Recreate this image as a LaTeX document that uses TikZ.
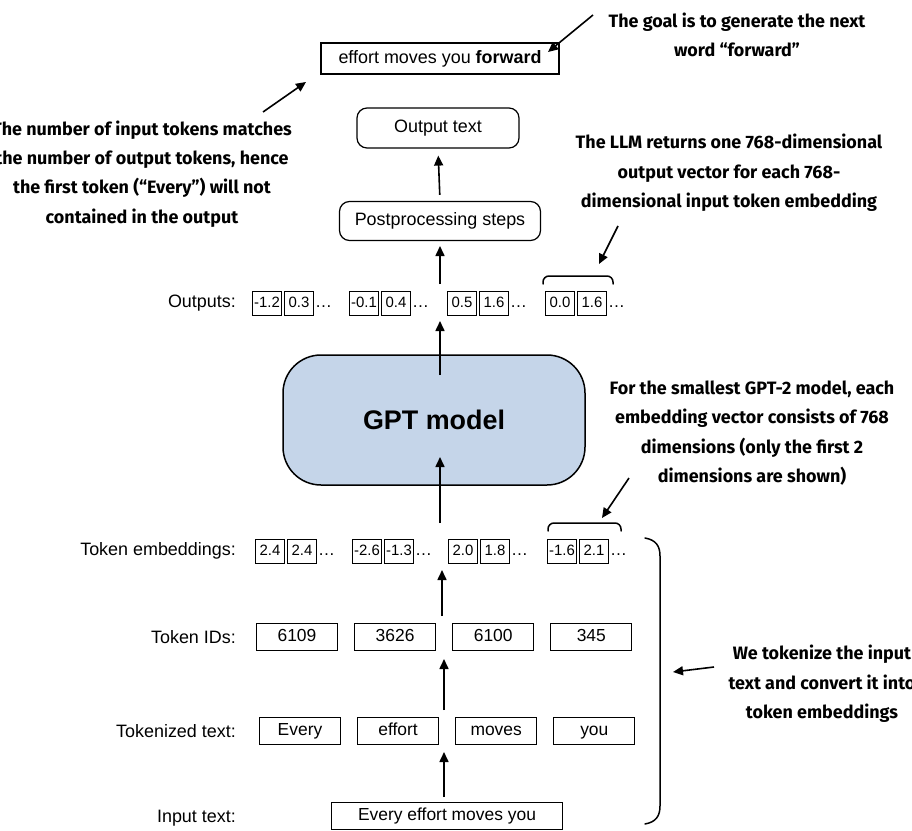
\documentclass[tikz,border=0pt]{standalone}
\usepackage{fontspec}
\setmainfont{Liberation Sans}
\newfontfamily\notefont{Fira Sans}
\usetikzlibrary{positioning,arrows.meta}
\definecolor{gptblue}{RGB}{197,213,233}

\tikzset{
  tokbox/.style={draw, line width=1.1bp, minimum width=81bp, minimum height=27bp, inner sep=0pt,
    text height=13bp, text depth=3.5bp, font=\fontsize{17.5}{20}\selectfont},
  vecbox/.style={draw, line width=1bp, minimum width=29bp, minimum height=24bp, inner sep=0pt,
    text height=11bp, text depth=2bp, font=\fontsize{15}{17}\selectfont},
  dots/.style={inner sep=0pt, anchor=base west, font=\fontsize{17}{20}\selectfont},
  rowlabel/.style={anchor=east, inner sep=0pt, font=\fontsize{18}{20}\selectfont},
  stepbox/.style={draw, line width=1.2bp, rounded corners=10bp, inner sep=0pt, font=\fontsize{18}{20}\selectfont},
  note/.style={align=center, inner sep=0pt, font=\notefont\bfseries\fontsize{18}{29.5}\selectfont},
  arr/.style={-{Triangle[length=10bp,width=9bp]}, line width=1.6bp},
  brace/.style={line width=1.5bp, line cap=round}
}

\begin{document}
\begin{tikzpicture}[x=1bp, y=-1bp, node distance=16bp]
\useasboundingbox (0,0) rectangle (912,831);

% input text and tokens
\node[rowlabel] (linp) at (236,818) {Input text:};
\node[tokbox, minimum width=231bp] (inp) at (447,816) {Every effort moves you};

\node[rowlabel] (ltok) at (236,731) {Tokenized text:};
\node[tokbox] (w1) at (300,731) {Every};
\node[tokbox, right=of w1] (w2) {effort};
\node[tokbox, right=of w2] (w3) {moves};
\node[tokbox, right=of w3] (w4) {you};

\node[rowlabel] (lid) at (236,637) {Token IDs:};
\node[tokbox] (id1) at (297,637) {6109};
\node[tokbox, right=of id1] (id2) {3626};
\node[tokbox, right=of id2] (id3) {6100};
\node[tokbox, right=of id3] (id4) {345};

% token embeddings
\node[rowlabel] (lemb) at (236,551) {Token embeddings:};
\node[vecbox] (e1a) at (270,551) {2.4};
\node[vecbox, right=2bp of e1a] (e1b) {2.4};
\node[dots] (e1d) at ([xshift=1bp]e1b.base east) {\dots};
\node[vecbox] (e2a) at (367,551) {-2.6};
\node[vecbox, right=2bp of e2a] (e2b) {-1.3};
\node[dots] (e2d) at ([xshift=1bp]e2b.base east) {\dots};
\node[vecbox] (e3a) at (463,551) {2.0};
\node[vecbox, right=2bp of e3a] (e3b) {1.8};
\node[dots] (e3d) at ([xshift=1bp]e3b.base east) {\dots};
\node[vecbox] (e4a) at (562,551) {-1.6};
\node[vecbox, right=2bp of e4a] (e4b) {2.1};
\node[dots] (e4d) at ([xshift=1bp]e4b.base east) {\dots};

% model
\node[draw, line width=1.5bp, fill=gptblue, rounded corners=38bp, minimum width=302bp, minimum height=130bp,
      font=\bfseries\fontsize{27}{30}\selectfont] (gpt) at (434,420) {GPT model};

% outputs
\node[rowlabel] (lout) at (236,303) {Outputs:};
\node[vecbox] (o1a) at (267,303) {-1.2};
\node[vecbox, right=2bp of o1a] (o1b) {0.3};
\node[dots] (o1d) at ([xshift=1bp]o1b.base east) {\dots};
\node[vecbox] (o2a) at (364,303) {-0.1};
\node[vecbox, right=2bp of o2a] (o2b) {0.4};
\node[dots] (o2d) at ([xshift=1bp]o2b.base east) {\dots};
\node[vecbox] (o3a) at (462,303) {0.5};
\node[vecbox, right=2bp of o3a] (o3b) {1.6};
\node[dots] (o3d) at ([xshift=1bp]o3b.base east) {\dots};
\node[vecbox] (o4a) at (560,303) {0.0};
\node[vecbox, right=2bp of o4a] (o4b) {1.6};
\node[dots] (o4d) at ([xshift=1bp]o4b.base east) {\dots};

\node[stepbox, minimum width=201bp, minimum height=39bp] (post) at (440,221) {Postprocessing steps};
\node[stepbox, minimum width=162bp, minimum height=40bp] (outtxt) at (438,128) {Output text};
\node[draw, line width=1.2bp, minimum width=238bp, minimum height=31bp, inner sep=0pt,
      font=\fontsize{18}{20}\selectfont] (next) at (440,58.5) {effort moves you \textbf{forward}};

% flow arrows
\coordinate (f0a) at (444,797);
\coordinate (f0b) at (444,752);
\coordinate (f1a) at (444,710);
\coordinate (f1b) at (444,659);
\coordinate (f2a) at (442,616);
\coordinate (f2b) at (442,570);
\coordinate (f3a) at (440,523);
\coordinate (f3b) at (440,457);
\coordinate (f4a) at (440,375);
\coordinate (f4b) at (440,321);
\coordinate (f5a) at (440,284);
\coordinate (f5b) at (440,246);
\draw[arr] (f0a) -- (f0b);
\draw[arr] (f1a) -- (f1b);
\draw[arr] (f2a) -- (f2b);
\draw[arr] (f3a) -- (f3b);
\draw[arr] (f4a) -- (f4b);
\draw[arr] (f5a) -- (f5b);
\draw[arr, shorten <=6bp, shorten >=7bp] (post.north) -- (outtxt.south);

% braces
\draw[brace, rounded corners=6bp] (543,284) -- (543,276) -- (613,276) -- (613,284);
\draw[brace, rounded corners=6bp] (548,531) -- (548,523) -- (621,523) -- (621,531);
\draw[brace] (645,538) .. controls (656,540) and (660,546) .. (660,556) -- (660,806)
  .. controls (660,816) and (656,822) .. (645,824);

% annotations
\node[note] (goal) at (737,35) {The goal is to generate the next\\word “forward”};
\node[note] (match) at (142,174) {The number of input tokens matches\\the number of output tokens, hence\\the first token (“Every”) will not\\contained in the output};
\node[note] (llm) at (729,173) {The LLM returns one 768-dimensional\\output vector for each 768-\\dimensional input token embedding};
\node[note] (small) at (752,433) {For the smallest GPT-2 model, each\\embedding vector consists of 768\\dimensions (only the first 2\\dimensions are shown)};
\node[note] (tokz) at (822,684) {We tokenize the input\\text and convert it into\\token embeddings};

\coordinate (n1a) at (593,15);
\coordinate (n1b) at (548,52);
\coordinate (n2a) at (263,112);
\coordinate (n2b) at (306,82);
\coordinate (n3a) at (618,226);
\coordinate (n3b) at (599,264);
\coordinate (n4a) at (629,478);
\coordinate (n4b) at (602,518);
\coordinate (n5a) at (714,667);
\coordinate (n5b) at (673,672);
\draw[arr] (n1a) -- (n1b);
\draw[arr] (n2a) -- (n2b);
\draw[arr] (n3a) -- (n3b);
\draw[arr] (n4a) -- (n4b);
\draw[arr] (n5a) -- (n5b);
\end{tikzpicture}
\end{document}
